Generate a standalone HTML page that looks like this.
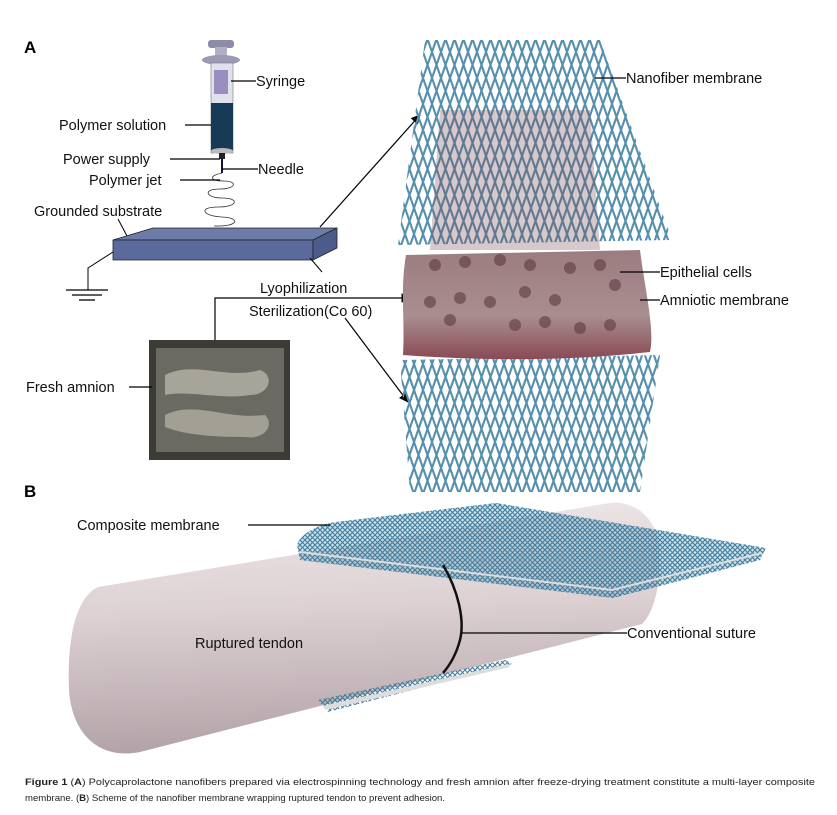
<!DOCTYPE html>
<html><head><style>
body{margin:0;background:#fff;}
svg{display:block;font-family:"Liberation Sans",Arial,sans-serif;}
.t{font-size:14.5px;fill:#111;}
.cap{font-size:9.5px;fill:#222;}
</style></head><body>
<svg width="837" height="815" viewBox="0 0 837 815" xmlns="http://www.w3.org/2000/svg">
<defs>
<pattern id="mesh" width="9" height="26" patternUnits="userSpaceOnUse">
<path d="M0,0 L9,26 M9,0 L0,26" stroke="#5690ae" stroke-width="2.1" fill="none"/>
</pattern>
<pattern id="fine" width="5" height="5" patternUnits="userSpaceOnUse">
<path d="M0,0 L5,5 M5,0 L0,5" stroke="#3f7d9c" stroke-width="1.1" fill="none"/>
</pattern>
<linearGradient id="tend" x1="0" y1="0" x2="0.1" y2="1">
<stop offset="0" stop-color="#eee7e8"/><stop offset="0.45" stop-color="#ddd1d3"/><stop offset="1" stop-color="#b3a3a8"/>
</linearGradient>
<linearGradient id="amn" x1="0" y1="0" x2="0" y2="1">
<stop offset="0" stop-color="#9c7c80"/><stop offset="0.6" stop-color="#a88e90"/><stop offset="1" stop-color="#8a4a55"/>
</linearGradient>
<marker id="ar" viewBox="0 0 10 10" refX="9" refY="5" markerWidth="8" markerHeight="8" orient="auto"><path d="M0,0 L10,5 L0,10 z" fill="#000"/></marker>
</defs>

<text x="24" y="53" style="font-size:17px;font-weight:bold">A</text>
<text x="24" y="497" style="font-size:17px;font-weight:bold">B</text>

<!-- syringe -->
<rect x="208" y="40" width="26" height="8" rx="3" fill="#8c8ca8"/>
<rect x="215" y="47" width="12" height="10" fill="#b0b0c4"/>
<ellipse cx="221" cy="60" rx="19" ry="5" fill="#9a9ab4"/>
<rect x="211" y="63" width="22" height="90" fill="#dfe2ea" stroke="#777" stroke-width="0.6"/>
<rect x="214" y="70" width="14" height="24" fill="#9a8ec0"/>
<rect x="211" y="103" width="22" height="48" fill="#173a56"/>
<ellipse cx="222" cy="151" rx="11" ry="3" fill="#bbb"/>
<rect x="219" y="153" width="6" height="6" fill="#222"/>
<line x1="222" y1="159" x2="222" y2="173" stroke="#113" stroke-width="2"/>
<path d="M222,173 c-14,3 -12,8 2,8 c14,0 12,8 -4,8 c-18,0 -14,9 2,9 c18,0 16,9 -4,9 c-20,0 -16,9 4,10 c20,1 16,10 -8,9" fill="none" stroke="#333" stroke-width="0.8"/>
<line x1="231" y1="81" x2="256" y2="81" stroke="#000" stroke-width="1.2"/>
<text x="256" y="86" class="t">Syringe</text>
<text x="59" y="130" class="t">Polymer solution</text>
<line x1="185" y1="125" x2="211" y2="125" stroke="#000" stroke-width="1.2"/>
<text x="63" y="164" class="t">Power supply</text>
<line x1="170" y1="159" x2="220" y2="159" stroke="#000" stroke-width="1.2"/>
<line x1="222" y1="169" x2="258" y2="169" stroke="#000" stroke-width="1.2"/>
<text x="258" y="174" class="t">Needle</text>
<text x="89" y="185" class="t">Polymer jet</text>
<line x1="180" y1="180" x2="220" y2="180" stroke="#000" stroke-width="1.2"/>
<text x="34" y="216" class="t">Grounded substrate</text>
<line x1="118" y1="219" x2="127" y2="236" stroke="#000" stroke-width="1"/>
<!-- substrate -->
<polygon points="113,240 153,228 337,228 313,240" fill="#6d7ba8" stroke="#222" stroke-width="0.8"/>
<polygon points="113,240 313,240 313,260 113,260" fill="#5a6a9c" stroke="#222" stroke-width="0.8"/>
<polygon points="313,240 337,228 337,248 313,260" fill="#4c5b8a" stroke="#222" stroke-width="0.8"/>
<polyline points="113,252 88,268 88,290" fill="none" stroke="#000" stroke-width="1"/>
<line x1="66" y1="290" x2="108" y2="290" stroke="#000" stroke-width="1.3"/>
<line x1="72" y1="295" x2="102" y2="295" stroke="#000" stroke-width="1.3"/>
<line x1="79" y1="300" x2="95" y2="300" stroke="#000" stroke-width="1.3"/>
<line x1="320" y1="227" x2="420" y2="115" stroke="#000" stroke-width="1.2" marker-end="url(#ar)"/>
<line x1="310" y1="258" x2="322" y2="272" stroke="#000" stroke-width="1"/>
<text x="260" y="293" class="t">Lyophilization</text>
<text x="249" y="316" class="t">Sterilization(Co 60)</text>
<polyline points="215,345 215,298 410,298" fill="none" stroke="#000" stroke-width="1.2" marker-end="url(#ar)"/>
<line x1="345" y1="318" x2="408" y2="402" stroke="#000" stroke-width="1.2" marker-end="url(#ar)"/>

<!-- fresh amnion -->
<rect x="149" y="340" width="141" height="120" fill="#3d3b36"/>
<rect x="156" y="348" width="128" height="104" fill="#6b6a62"/>
<path d="M165,375 c30,-15 60,5 95,-5 c15,5 10,25 -10,25 c-30,5 -60,-5 -85,0z" fill="#b6b3a8" opacity="0.8"/>
<path d="M165,415 c30,-15 60,5 100,0 c10,10 0,25 -20,22 c-30,0 -60,-2 -80,-10z" fill="#b0ada2" opacity="0.8"/>
<text x="26" y="392" class="t">Fresh amnion</text>
<line x1="129" y1="387" x2="152" y2="387" stroke="#000" stroke-width="1.2"/>

<!-- membranes -->
<polygon points="425,40 600,40 672,240 398,245" fill="url(#mesh)"/>
<polygon points="440,110 590,110 600,250 430,250" fill="#7a4a52" opacity="0.3"/>
<polygon points="400,360 660,355 640,492 410,492" fill="url(#mesh)"/>
<path d="M406,255 L640,250 C645,290 655,330 650,352 C560,362 470,360 403,355 C405,320 400,290 406,255z" fill="url(#amn)"/>
<g fill="#5e3a40" opacity="0.6">
<circle cx="435" cy="265" r="6"/><circle cx="465" cy="262" r="6"/><circle cx="500" cy="260" r="6"/><circle cx="530" cy="265" r="6"/><circle cx="570" cy="268" r="6"/><circle cx="600" cy="265" r="6"/><circle cx="615" cy="285" r="6"/>
<circle cx="430" cy="302" r="6"/><circle cx="460" cy="298" r="6"/><circle cx="490" cy="302" r="6"/><circle cx="525" cy="292" r="6"/><circle cx="555" cy="300" r="6"/>
<circle cx="450" cy="320" r="6"/><circle cx="515" cy="325" r="6"/><circle cx="545" cy="322" r="6"/><circle cx="580" cy="328" r="6"/><circle cx="610" cy="325" r="6"/>
</g>
<line x1="620" y1="272" x2="660" y2="272" stroke="#000" stroke-width="1.2"/>
<text x="660" y="277" class="t">Epithelial cells</text>
<line x1="640" y1="300" x2="660" y2="300" stroke="#000" stroke-width="1.2"/>
<text x="660" y="305" class="t">Amniotic membrane</text>
<line x1="595" y1="78" x2="626" y2="78" stroke="#000" stroke-width="1.2"/>
<text x="626" y="83" class="t">Nanofiber membrane</text>

<!-- Part B tendon -->
<path d="M98,587 L610,503 C640,500 662,525 660,560 C660,590 652,615 642,624 L140,752 C100,760 72,735 69,690 C67,640 75,598 98,587z" fill="url(#tend)"/>
<polygon points="318,700 505,660 512,664 328,712" fill="url(#fine)"/>
<polygon points="322,706 508,664 510,667 326,710" fill="#ddd"/>
<path d="M297,545 C300,535 315,525 336,522 L496,503 L766,548 L760,560 L613,598 L300,560z" fill="#5a9cbc" opacity="0.3"/>
<path d="M297,545 C300,535 315,525 336,522 L496,503 L766,548 L760,560 L613,598 L300,560z" fill="url(#fine)"/>
<polyline points="300,552 612,590 762,553" fill="none" stroke="#ddd" stroke-width="2"/>
<path d="M443,565 C458,590 465,620 460,640 C456,655 450,665 443,673" fill="none" stroke="#111" stroke-width="2.5"/>
<text x="77" y="530" class="t">Composite membrane</text>
<line x1="248" y1="525" x2="330" y2="525" stroke="#000" stroke-width="1.2"/>
<text x="195" y="648" class="t">Ruptured tendon</text>
<line x1="462" y1="633" x2="627" y2="633" stroke="#000" stroke-width="1.2"/>
<text x="627" y="638" class="t">Conventional suture</text>

<text x="25" y="785" class="cap" textLength="790" lengthAdjust="spacingAndGlyphs"><tspan font-weight="bold">Figure 1</tspan> (<tspan font-weight="bold">A</tspan>) Polycaprolactone nanofibers prepared via electrospinning technology and fresh amnion after freeze-drying treatment constitute a multi-layer composite</text>
<text x="25" y="801" class="cap" textLength="420" lengthAdjust="spacingAndGlyphs">membrane. (<tspan font-weight="bold">B</tspan>) Scheme of the nanofiber membrane wrapping ruptured tendon to prevent adhesion.</text>
</svg>
</body></html>
